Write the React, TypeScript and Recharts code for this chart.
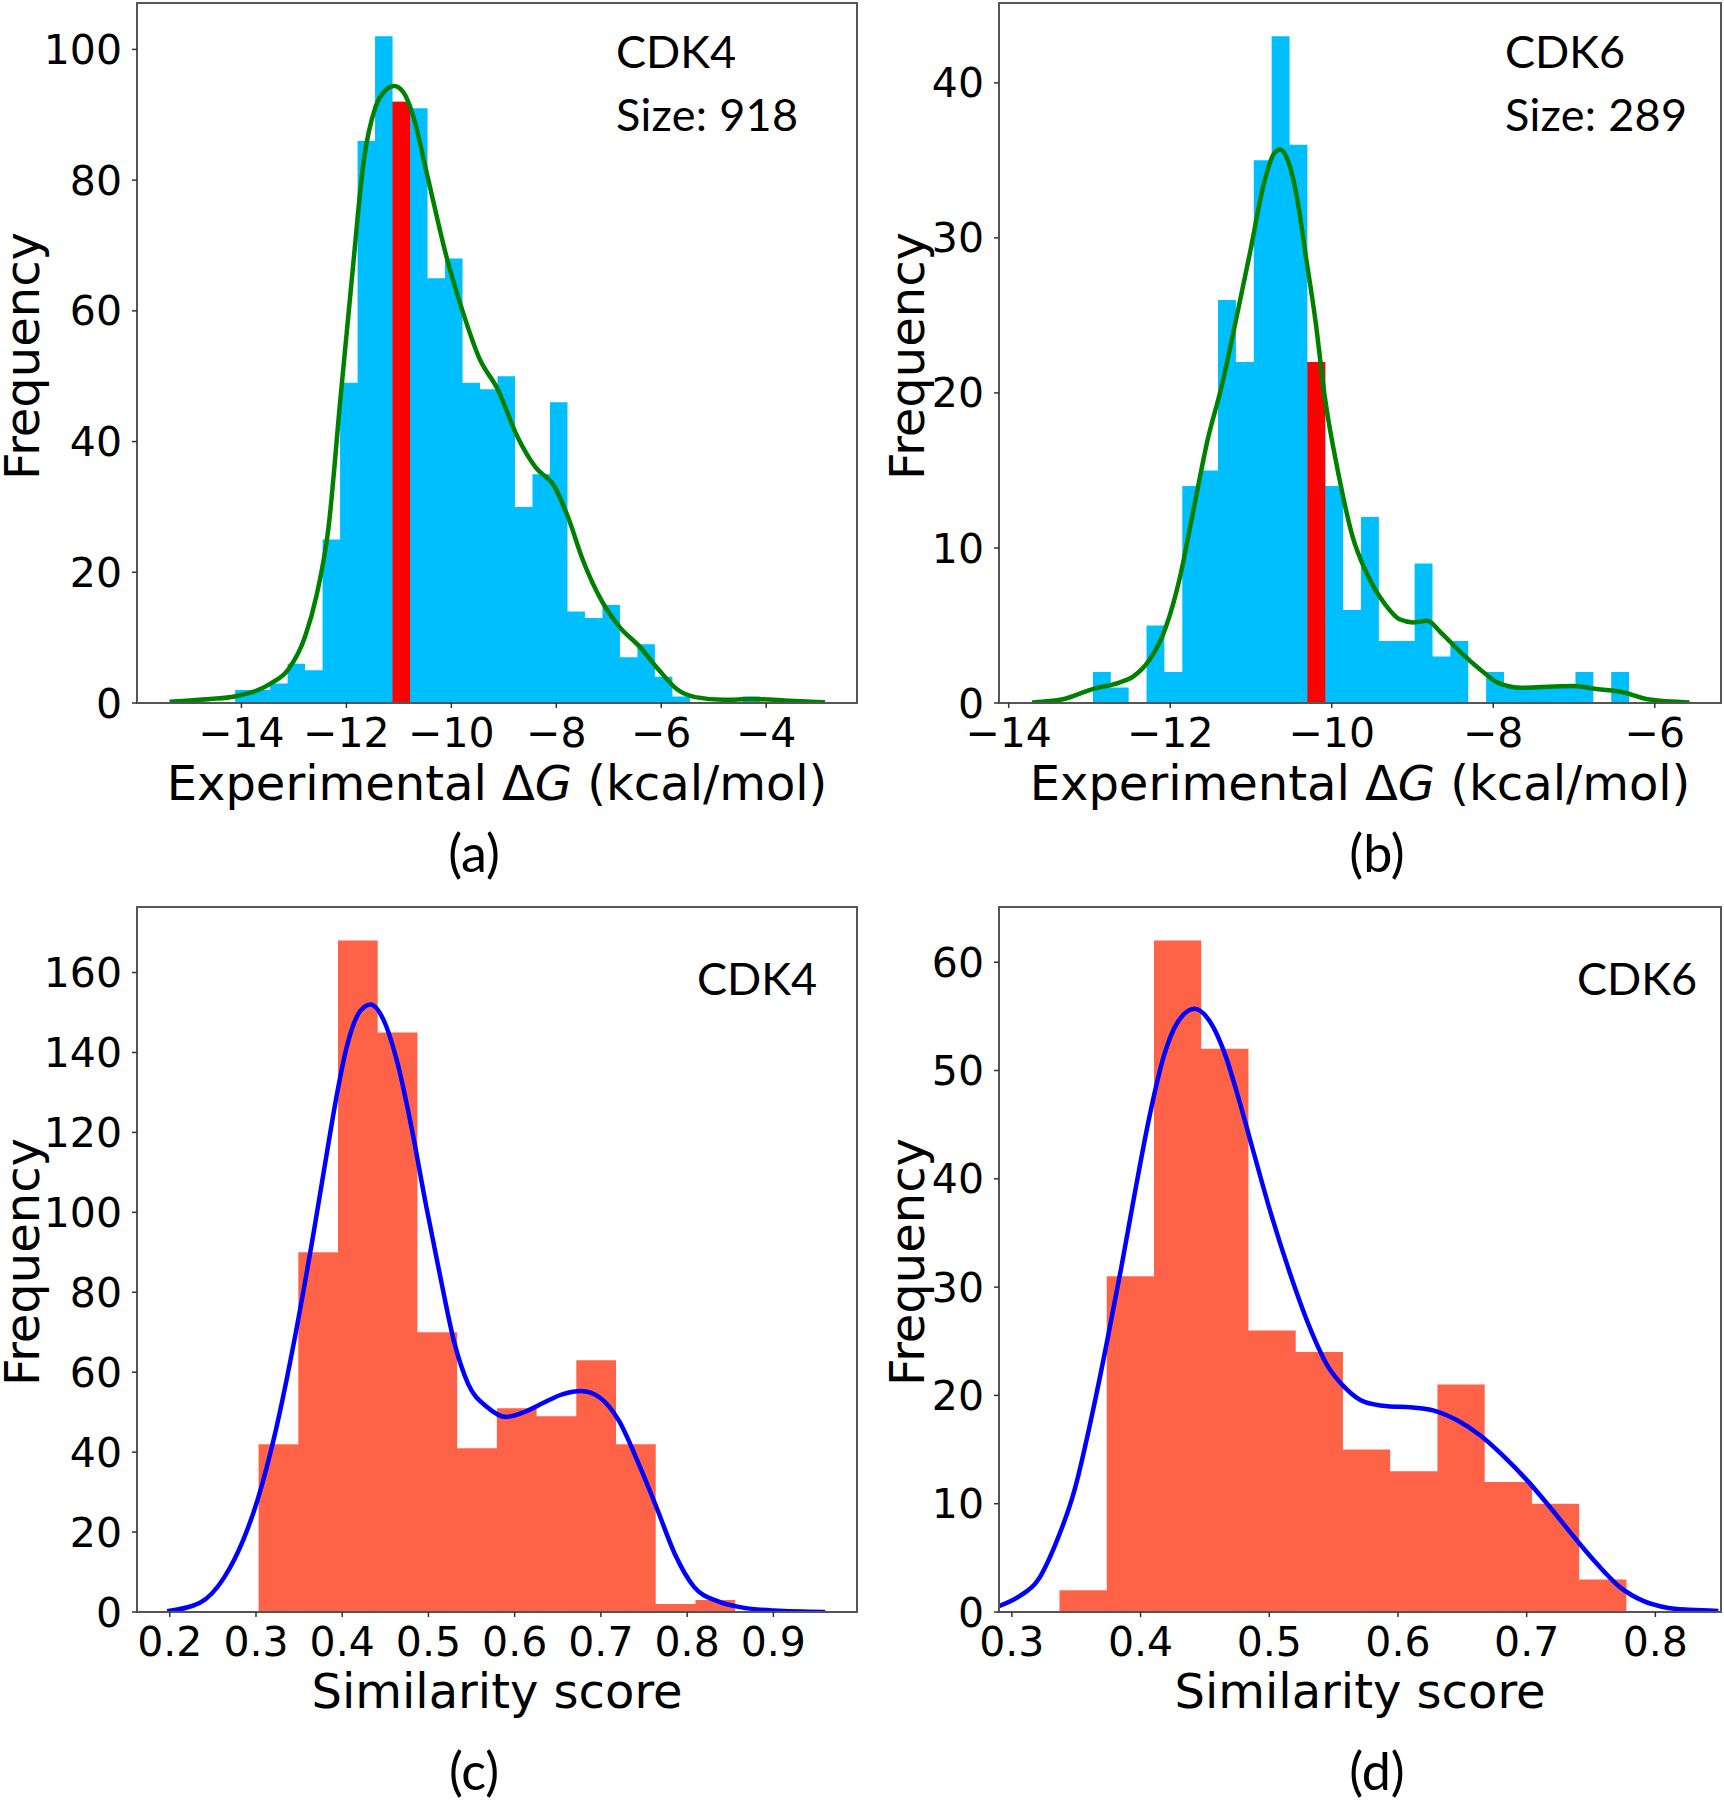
import { ComposedChart, Area, Line, XAxis, YAxis, ReferenceArea } from "recharts";

// (a) CDK4 experimental dG histogram
const binStartA = -14.12;
const binWidthA = 0.3333;
const countsA = [2, 2, 3, 6, 5, 25, 49, 86, 102, 92, 91, 65, 68, 49, 48, 50, 30, 35, 46, 14, 13, 15, 7, 9, 4, 1, 0, 0, 0, 1];
const redBinA = 9;
const kdeXA = [-15.37, -14.6, -14.13, -13.46, -13.1, -12.79, -12.57, -12.34, -12.12, -11.89, -11.67, -11.44, -11.26, -11.09, -10.91, -10.73, -10.46, -10.1, -9.78, -9.47, -9.11, -8.75, -8.39, -8.04, -7.77, -7.5, -7.14, -6.78, -6.42, -6.06, -5.7, -5.35, -4.81, -4.27, -3.55, -2.88];
const kdeYA = [0.2, 0.6, 1.0, 2.9, 5.2, 10.1, 16.4, 26.9, 46, 65.4, 82.9, 91.3, 93.7, 94.4, 93.4, 89.9, 80.8, 68.5, 59.8, 52.8, 47.9, 40.9, 36.0, 33.2, 28.3, 22.0, 15.7, 11.5, 8.7, 5.2, 2.1, 0.9, 0.5, 0.6, 0.35, 0.1];

// (b) CDK6 experimental dG histogram
const binStartB = -12.957;
const binWidthB = 0.2213;
const countsB = [2, 1, 0, 5, 2, 14, 15, 26, 22, 35, 43, 36, 22, 14, 6, 12, 4, 4, 9, 3, 4, 0, 2, 1, 1, 1, 1, 2, 0, 2];
const redBinB = 12;
const kdeXB = [-13.71, -13.33, -12.96, -12.64, -12.46, -12.26, -12.06, -11.88, -11.71, -11.54, -11.36, -11.19, -11.01, -10.84, -10.72, -10.64, -10.55, -10.43, -10.32, -10.2, -10.09, -9.91, -9.74, -9.57, -9.33, -9.16, -8.99, -8.82, -8.64, -8.41, -8.17, -7.94, -7.65, -7.25, -7.01, -6.72, -6.38, -6.09, -5.57];
const kdeYB = [0.03, 0.24, 0.9, 1.3, 1.7, 2.75, 4.8, 8.1, 12.5, 16.9, 20.5, 24.6, 29.1, 33.5, 35.4, 35.7, 35.1, 32.6, 28.8, 24.6, 19.9, 14.6, 10.7, 8.4, 6.3, 5.4, 5.2, 5.3, 4.5, 3.3, 2.2, 1.3, 0.98, 1.06, 1.1, 0.9, 0.68, 0.24, 0.03];

// (c) CDK4 similarity score histogram
const binStartC = 0.303;
const binWidthC = 0.04606;
const countsC = [42, 90, 168, 145, 70, 41, 51, 49, 63, 42, 2, 3];
const kdeXC = [0.197, 0.235, 0.263, 0.285, 0.302, 0.323, 0.345, 0.367, 0.383, 0.394, 0.405, 0.421, 0.433, 0.448, 0.465, 0.481, 0.497, 0.514, 0.53, 0.546, 0.568, 0.59, 0.612, 0.634, 0.656, 0.677, 0.699, 0.721, 0.743, 0.765, 0.786, 0.808, 0.836, 0.863, 0.901, 0.96];
const kdeYC = [0.2, 2.3, 8.6, 17.9, 28.2, 45.5, 68.6, 95.1, 115.9, 129.7, 141.2, 150.4, 152.0, 148.1, 136.6, 120.5, 102.0, 83.6, 67.4, 57.1, 51.3, 48.8, 50.1, 52.4, 54.5, 55.3, 53.6, 47.8, 37.5, 25.9, 14.4, 6.3, 2.65, 1.15, 0.35, 0];

// (d) CDK6 similarity score histogram
const binStartD = 0.337;
const binWidthD = 0.03671;
const countsD = [2, 31, 62, 52, 26, 24, 15, 13, 21, 12, 10, 3];
const kdeXD = [0.29, 0.305, 0.32, 0.334, 0.349, 0.363, 0.374, 0.385, 0.396, 0.407, 0.418, 0.429, 0.442, 0.454, 0.465, 0.476, 0.487, 0.501, 0.516, 0.53, 0.545, 0.559, 0.574, 0.592, 0.61, 0.628, 0.646, 0.664, 0.682, 0.7, 0.718, 0.737, 0.755, 0.773, 0.791, 0.809, 0.827, 0.849];
const kdeYD = [0.55, 1.4, 2.9, 6.3, 11.4, 18.6, 25.0, 31.8, 39.0, 45.8, 51.3, 54.5, 55.7, 54.5, 51.7, 47.5, 42.8, 36.9, 31.3, 26.7, 22.8, 20.7, 19.4, 19.0, 18.9, 18.6, 17.7, 16.3, 14.4, 12.2, 9.7, 6.9, 4.4, 2.25, 1.0, 0.4, 0.2, 0.1];

const ticksDG_A = [-14, -12, -10, -8, -6, -4];
const ticksDG_B = [-14, -12, -10, -8, -6];
const ticksSim_C = [0.2, 0.3, 0.4, 0.5, 0.6, 0.7, 0.8, 0.9];
const ticksSim_D = [0.3, 0.4, 0.5, 0.6, 0.7, 0.8];
const ticksFreq_A = [0, 20, 40, 60, 80, 100];
const ticksFreq_B = [0, 10, 20, 30, 40];
const ticksFreq_C = [0, 20, 40, 60, 80, 100, 120, 140, 160];
const ticksFreq_D = [0, 10, 20, 30, 40, 50, 60];

const TICK_FONT = "'DejaVu Sans', sans-serif";
const NOTE_FONT = "Lato, sans-serif";

// step rows: one per bin edge, last edge repeats the last count
const histRows = (start: number, width: number, counts: number[], redBin?: number) =>
  counts.concat(counts[counts.length - 1]).map((c, i) => ({
    x: start + i * width,
    count: c,
    red:
      redBin !== undefined && (i === redBin || i === redBin + 1)
        ? counts[redBin]
        : null,
  }));

const kdeRows = (xs: number[], ys: number[]) => xs.map((x, i) => ({ x, y: ys[i] }));

const fmt = (v: number) => String(v).replace("-", "\u2212");

interface PanelProps {
  left: number;
  top: number;
  width: number;
  height: number;
  rightMargin: number;
  rows: { x: number; count: number; red: number | null }[];
  kde: { x: number; y: number }[];
  barColor: string;
  kdeColor: string;
  kdeWidth: number;
  xDomain: [number, number];
  xTicks: number[];
  yDomain: [number, number];
  yTicks: number[];
}

const frame = { stroke: "#555", strokeWidth: 2 };

const Panel = (p: PanelProps) => (
  <div style={{ position: "absolute", left: p.left, top: p.top }}>
    <ComposedChart
      width={p.width}
      height={p.height}
      data={p.rows}
      margin={{ top: 3, right: p.rightMargin, left: 0, bottom: 0 }}
    >
      <XAxis
        type="number"
        dataKey="x"
        domain={p.xDomain}
        ticks={p.xTicks}
        interval={0}
        allowDataOverflow
        height={57}
        tickSize={5}
        tickMargin={10}
        tickFormatter={fmt}
        axisLine={frame}
        tickLine={{ stroke: "#333", strokeWidth: 1.5 }}
        tick={{ fontSize: 41, fill: "#000", fontFamily: TICK_FONT }}
      />
      <YAxis
        type="number"
        domain={p.yDomain}
        ticks={p.yTicks}
        interval={0}
        allowDataOverflow
        width={137}
        tickSize={5}
        tickMargin={10}
        axisLine={frame}
        tickLine={{ stroke: "#333", strokeWidth: 1.5 }}
        tick={{ fontSize: 41, fill: "#000", fontFamily: TICK_FONT }}
      />
      <Area
        type="stepAfter"
        dataKey="count"
        fill={p.barColor}
        fillOpacity={1}
        stroke="none"
        isAnimationActive={false}
      />
      <Area
        type="stepAfter"
        dataKey="red"
        fill="#ff0000"
        fillOpacity={1}
        stroke="none"
        isAnimationActive={false}
      />
      <Line
        data={p.kde}
        dataKey="y"
        type="monotone"
        stroke={p.kdeColor}
        strokeWidth={p.kdeWidth}
        dot={false}
        activeDot={false}
        isAnimationActive={false}
      />
      {/* axes box */}
      <ReferenceArea
        x1={p.xDomain[0]}
        x2={p.xDomain[1]}
        y1={p.yDomain[0]}
        y2={p.yDomain[1]}
        fill="none"
        fillOpacity={0}
        stroke="#555"
        strokeWidth={2}
        ifOverflow="visible"
      />
    </ComposedChart>
  </div>
);

const Texts = () => (
  <svg
    width={1724}
    height={1800}
    style={{ position: "absolute", left: 0, top: 0, pointerEvents: "none" }}
  >
    <g fontFamily={TICK_FONT} fontSize={48} fill="#000">
      <text transform="translate(39,356) rotate(-90)" textAnchor="middle">Frequency</text>
      <text transform="translate(924,356) rotate(-90)" textAnchor="middle">Frequency</text>
      <text transform="translate(39,1262) rotate(-90)" textAnchor="middle">Frequency</text>
      <text transform="translate(924,1262) rotate(-90)" textAnchor="middle">Frequency</text>
      <text x={497} y={800} textAnchor="middle">
        Experimental Δ<tspan fontStyle="italic">G</tspan> (kcal/mol)
      </text>
      <text x={1360} y={800} textAnchor="middle">
        Experimental Δ<tspan fontStyle="italic">G</tspan> (kcal/mol)
      </text>
      <text x={497} y={1708} textAnchor="middle">Similarity score</text>
      <text x={1360} y={1708} textAnchor="middle">Similarity score</text>
    </g>
    <g fontFamily={NOTE_FONT} fontSize={45} fill="#000">
      <text x={616} y={68}>CDK4</text>
      <text x={616} y={131} textLength={182}>Size: 918</text>
      <text x={1505} y={68}>CDK6</text>
      <text x={1505} y={131} textLength={182}>Size: 289</text>
      <text x={697} y={995}>CDK4</text>
      <text x={1577} y={995}>CDK6</text>
    </g>
    <g fontFamily={NOTE_FONT} fontSize={52} fill="#000" textAnchor="middle">
      <text x={474} y={872}>(a)</text>
      <text x={1377} y={872}>(b)</text>
      <text x={474} y={1790}>(c)</text>
      <text x={1377} y={1790}>(d)</text>
    </g>
  </svg>
);

export default function App() {
  return (
    <div style={{ position: "absolute", left: 0, top: 0, width: 1724, height: 1800, background: "#fff" }}>
      <Panel
        left={0}
        top={0}
        width={862}
        height={760}
        rightMargin={5}
        rows={histRows(binStartA, binWidthA, countsA, redBinA)}
        kde={kdeRows(kdeXA, kdeYA)}
        barColor="#00bfff"
        kdeColor="#008000"
        kdeWidth={4.5}
        xDomain={[-15.99, -2.27]}
        xTicks={ticksDG_A}
        yDomain={[0, 107.1]}
        yTicks={ticksFreq_A}
      />
      <Panel
        left={862}
        top={0}
        width={862}
        height={760}
        rightMargin={3}
        rows={histRows(binStartB, binWidthB, countsB, redBinB)}
        kde={kdeRows(kdeXB, kdeYB)}
        barColor="#00bfff"
        kdeColor="#008000"
        kdeWidth={4.5}
        xDomain={[-14.12, -5.18]}
        xTicks={ticksDG_B}
        yDomain={[0, 45.15]}
        yTicks={ticksFreq_B}
      />
      <Panel
        left={0}
        top={904}
        width={862}
        height={765}
        rightMargin={5}
        rows={histRows(binStartC, binWidthC, countsC)}
        kde={kdeRows(kdeXC, kdeYC)}
        barColor="#ff6347"
        kdeColor="#0000ff"
        kdeWidth={4.5}
        xDomain={[0.162, 0.997]}
        xTicks={ticksSim_C}
        yDomain={[0, 176.4]}
        yTicks={ticksFreq_C}
      />
      <Panel
        left={862}
        top={904}
        width={862}
        height={765}
        rightMargin={3}
        rows={histRows(binStartD, binWidthD, countsD)}
        kde={kdeRows(kdeXD, kdeYD)}
        barColor="#ff6347"
        kdeColor="#0000ff"
        kdeWidth={4.5}
        xDomain={[0.29, 0.851]}
        xTicks={ticksSim_D}
        yDomain={[0, 65.1]}
        yTicks={ticksFreq_D}
      />
      <Texts />
    </div>
  );
}
